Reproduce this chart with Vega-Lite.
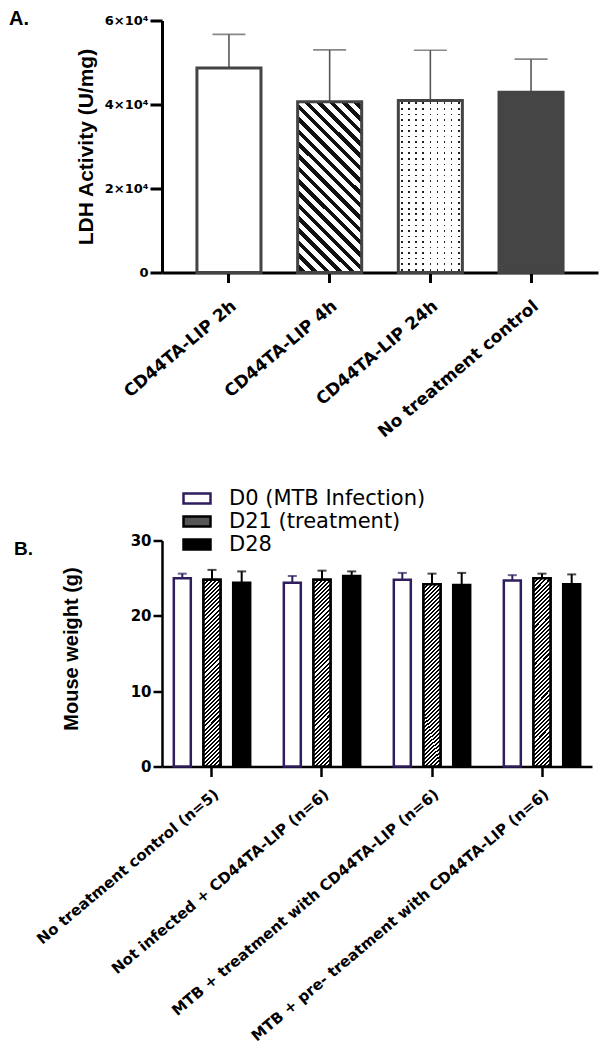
{
  "$schema": "https://vega.github.io/schema/vega-lite/v6.json",
  "background": "white",
  "padding": {"left": 9, "top": 8.5, "right": 5, "bottom": 2},
  "spacing": 93,
  "config": {
    "view": {"stroke": null},
    "font": "DejaVu Sans",
    "axis": {"grid": false, "labelColor": "black", "domainColor": "black", "tickColor": "black", "labelFont": "DejaVu Sans", "labelFontWeight": "bold", "titleColor": "black", "labelLimit": 500}
  },
  "vconcat": [
    {
      "width": 436,
      "height": 252,
      "title": {"text": "A.", "anchor": "start", "frame": "group", "dx": -153, "dy": 30.5, "fontSize": 20, "font": "Liberation Sans", "fontWeight": "bold", "color": "black", "offset": 0, "baseline": "alphabetic"},
      "data": {"values": [
        {"group": "CD44TA-LIP 2h", "value": 48700, "upper": 56700},
        {"group": "CD44TA-LIP 4h", "value": 40650, "upper": 53000},
        {"group": "CD44TA-LIP 24h", "value": 40950, "upper": 52900},
        {"group": "No treatment control", "value": 42900, "upper": 50800}
      ]},
      "encoding": {
        "x": {"field": "group", "type": "nominal", "sort": null, "scale": {"paddingInner": 0.364, "paddingOuter": 0.347},
          "axis": {"title": null, "labelAngle": -40, "labelFontSize": 17, "domainWidth": 3, "tickWidth": 3, "tickSize": 10, "labelPadding": 15}},
        "y": {"field": "value", "type": "quantitative", "scale": {"domain": [0, 60000], "nice": false},
          "axis": {"title": "LDH  Activity (U/mg)", "values": [0, 20000, 40000, 60000], "labelExpr": "datum.value === 0 ? '0' : format(datum.value / 10000, 'd') + '×10⁴'", "labelFontSize": 13, "domainWidth": 3, "tickWidth": 3, "tickSize": 12, "labelPadding": 2, "titleFont": "Liberation Sans", "titleFontSize": 21, "titleFontWeight": "bold", "titleX": -70, "titleY": 126, "titleBaseline": "alphabetic", "titleAngle": -90, "titleAlign": "center"}}
      },
      "layer": [
        {"mark": {"type": "rule", "color": "#555", "strokeWidth": 1.6}, "encoding": {"y2": {"field": "upper"}}},
        {"mark": {"type": "tick", "color": "#555", "thickness": 1.6, "size": 33}, "encoding": {"y": {"field": "upper", "type": "quantitative", "title": "LDH  Activity (U/mg)"}}},
        {"transform": [{"filter": "datum.group === 'CD44TA-LIP 2h'"}], "mark": {"type": "bar", "fill": "white", "stroke": "#444", "strokeWidth": 3}},
        {"transform": [{"filter": "datum.group === 'CD44TA-LIP 4h'"}], "mark": {"type": "bar", "stroke": "#444", "strokeWidth": 3,
          "fill": {"gradient": "linear", "x1": 0, "y1": 1, "x2": 0.451, "y2": -0.205, "stops": [
            {"offset": 0, "color": "#fff"},
            {"offset": 0.0145, "color": "#fff"}, {"offset": 0.0145, "color": "#111"}, {"offset": 0.0382, "color": "#111"}, {"offset": 0.0382, "color": "#fff"},
            {"offset": 0.0671, "color": "#fff"}, {"offset": 0.0671, "color": "#111"}, {"offset": 0.0908, "color": "#111"}, {"offset": 0.0908, "color": "#fff"},
            {"offset": 0.1197, "color": "#fff"}, {"offset": 0.1197, "color": "#111"}, {"offset": 0.1434, "color": "#111"}, {"offset": 0.1434, "color": "#fff"},
            {"offset": 0.1724, "color": "#fff"}, {"offset": 0.1724, "color": "#111"}, {"offset": 0.1961, "color": "#111"}, {"offset": 0.1961, "color": "#fff"},
            {"offset": 0.2250, "color": "#fff"}, {"offset": 0.2250, "color": "#111"}, {"offset": 0.2487, "color": "#111"}, {"offset": 0.2487, "color": "#fff"},
            {"offset": 0.2776, "color": "#fff"}, {"offset": 0.2776, "color": "#111"}, {"offset": 0.3013, "color": "#111"}, {"offset": 0.3013, "color": "#fff"},
            {"offset": 0.3303, "color": "#fff"}, {"offset": 0.3303, "color": "#111"}, {"offset": 0.3540, "color": "#111"}, {"offset": 0.3540, "color": "#fff"},
            {"offset": 0.3829, "color": "#fff"}, {"offset": 0.3829, "color": "#111"}, {"offset": 0.4066, "color": "#111"}, {"offset": 0.4066, "color": "#fff"},
            {"offset": 0.4355, "color": "#fff"}, {"offset": 0.4355, "color": "#111"}, {"offset": 0.4592, "color": "#111"}, {"offset": 0.4592, "color": "#fff"},
            {"offset": 0.4882, "color": "#fff"}, {"offset": 0.4882, "color": "#111"}, {"offset": 0.5119, "color": "#111"}, {"offset": 0.5119, "color": "#fff"},
            {"offset": 0.5408, "color": "#fff"}, {"offset": 0.5408, "color": "#111"}, {"offset": 0.5645, "color": "#111"}, {"offset": 0.5645, "color": "#fff"},
            {"offset": 0.5934, "color": "#fff"}, {"offset": 0.5934, "color": "#111"}, {"offset": 0.6171, "color": "#111"}, {"offset": 0.6171, "color": "#fff"},
            {"offset": 0.6461, "color": "#fff"}, {"offset": 0.6461, "color": "#111"}, {"offset": 0.6698, "color": "#111"}, {"offset": 0.6698, "color": "#fff"},
            {"offset": 0.6987, "color": "#fff"}, {"offset": 0.6987, "color": "#111"}, {"offset": 0.7224, "color": "#111"}, {"offset": 0.7224, "color": "#fff"},
            {"offset": 0.7513, "color": "#fff"}, {"offset": 0.7513, "color": "#111"}, {"offset": 0.7750, "color": "#111"}, {"offset": 0.7750, "color": "#fff"},
            {"offset": 0.8040, "color": "#fff"}, {"offset": 0.8040, "color": "#111"}, {"offset": 0.8277, "color": "#111"}, {"offset": 0.8277, "color": "#fff"},
            {"offset": 0.8566, "color": "#fff"}, {"offset": 0.8566, "color": "#111"}, {"offset": 0.8803, "color": "#111"}, {"offset": 0.8803, "color": "#fff"},
            {"offset": 0.9092, "color": "#fff"}, {"offset": 0.9092, "color": "#111"}, {"offset": 0.9329, "color": "#111"}, {"offset": 0.9329, "color": "#fff"},
            {"offset": 0.9618, "color": "#fff"}, {"offset": 0.9618, "color": "#111"}, {"offset": 0.9855, "color": "#111"}, {"offset": 0.9855, "color": "#fff"},
            {"offset": 1, "color": "#fff"}
          ]}}},
        {"transform": [{"filter": "datum.group === 'CD44TA-LIP 24h'"}], "mark": {"type": "bar", "strokeWidth": 0,
          "fill": {"gradient": "linear", "x1": 0, "y1": 0, "x2": 1, "y2": 0, "stops": [
            {"offset": 0, "color": "#fff"},
            {"offset": 0.0431, "color": "#fff"}, {"offset": 0.0431, "color": "#222"}, {"offset": 0.0681, "color": "#222"}, {"offset": 0.0681, "color": "#fff"},
            {"offset": 0.1542, "color": "#fff"}, {"offset": 0.1542, "color": "#222"}, {"offset": 0.1792, "color": "#222"}, {"offset": 0.1792, "color": "#fff"},
            {"offset": 0.2653, "color": "#fff"}, {"offset": 0.2653, "color": "#222"}, {"offset": 0.2903, "color": "#222"}, {"offset": 0.2903, "color": "#fff"},
            {"offset": 0.3764, "color": "#fff"}, {"offset": 0.3764, "color": "#222"}, {"offset": 0.4014, "color": "#222"}, {"offset": 0.4014, "color": "#fff"},
            {"offset": 0.4875, "color": "#fff"}, {"offset": 0.4875, "color": "#222"}, {"offset": 0.5125, "color": "#222"}, {"offset": 0.5125, "color": "#fff"},
            {"offset": 0.5986, "color": "#fff"}, {"offset": 0.5986, "color": "#222"}, {"offset": 0.6236, "color": "#222"}, {"offset": 0.6236, "color": "#fff"},
            {"offset": 0.7097, "color": "#fff"}, {"offset": 0.7097, "color": "#222"}, {"offset": 0.7347, "color": "#222"}, {"offset": 0.7347, "color": "#fff"},
            {"offset": 0.8208, "color": "#fff"}, {"offset": 0.8208, "color": "#222"}, {"offset": 0.8458, "color": "#222"}, {"offset": 0.8458, "color": "#fff"},
            {"offset": 0.9319, "color": "#fff"}, {"offset": 0.9319, "color": "#222"}, {"offset": 0.9569, "color": "#222"}, {"offset": 0.9569, "color": "#fff"},
            {"offset": 1, "color": "#fff"}
          ]}}},
        {"transform": [{"filter": "datum.group === 'CD44TA-LIP 24h'"}], "mark": {"type": "bar", "stroke": "#444", "strokeWidth": 3,
          "fill": {"gradient": "linear", "x1": 0, "y1": 0, "x2": 0, "y2": 1, "stops": [
            {"offset": 0, "color": "#fff"},
            {"offset": 0.0114, "color": "#fff"}, {"offset": 0.0114, "color": "rgba(255,255,255,0)"}, {"offset": 0.0208, "color": "rgba(255,255,255,0)"}, {"offset": 0.0208, "color": "#fff"},
            {"offset": 0.0437, "color": "#fff"}, {"offset": 0.0437, "color": "rgba(255,255,255,0)"}, {"offset": 0.0531, "color": "rgba(255,255,255,0)"}, {"offset": 0.0531, "color": "#fff"},
            {"offset": 0.0759, "color": "#fff"}, {"offset": 0.0759, "color": "rgba(255,255,255,0)"}, {"offset": 0.0853, "color": "rgba(255,255,255,0)"}, {"offset": 0.0853, "color": "#fff"},
            {"offset": 0.1082, "color": "#fff"}, {"offset": 0.1082, "color": "rgba(255,255,255,0)"}, {"offset": 0.1176, "color": "rgba(255,255,255,0)"}, {"offset": 0.1176, "color": "#fff"},
            {"offset": 0.1405, "color": "#fff"}, {"offset": 0.1405, "color": "rgba(255,255,255,0)"}, {"offset": 0.1499, "color": "rgba(255,255,255,0)"}, {"offset": 0.1499, "color": "#fff"},
            {"offset": 0.1727, "color": "#fff"}, {"offset": 0.1727, "color": "rgba(255,255,255,0)"}, {"offset": 0.1821, "color": "rgba(255,255,255,0)"}, {"offset": 0.1821, "color": "#fff"},
            {"offset": 0.2050, "color": "#fff"}, {"offset": 0.2050, "color": "rgba(255,255,255,0)"}, {"offset": 0.2144, "color": "rgba(255,255,255,0)"}, {"offset": 0.2144, "color": "#fff"},
            {"offset": 0.2372, "color": "#fff"}, {"offset": 0.2372, "color": "rgba(255,255,255,0)"}, {"offset": 0.2466, "color": "rgba(255,255,255,0)"}, {"offset": 0.2466, "color": "#fff"},
            {"offset": 0.2695, "color": "#fff"}, {"offset": 0.2695, "color": "rgba(255,255,255,0)"}, {"offset": 0.2789, "color": "rgba(255,255,255,0)"}, {"offset": 0.2789, "color": "#fff"},
            {"offset": 0.3018, "color": "#fff"}, {"offset": 0.3018, "color": "rgba(255,255,255,0)"}, {"offset": 0.3112, "color": "rgba(255,255,255,0)"}, {"offset": 0.3112, "color": "#fff"},
            {"offset": 0.3340, "color": "#fff"}, {"offset": 0.3340, "color": "rgba(255,255,255,0)"}, {"offset": 0.3434, "color": "rgba(255,255,255,0)"}, {"offset": 0.3434, "color": "#fff"},
            {"offset": 0.3663, "color": "#fff"}, {"offset": 0.3663, "color": "rgba(255,255,255,0)"}, {"offset": 0.3757, "color": "rgba(255,255,255,0)"}, {"offset": 0.3757, "color": "#fff"},
            {"offset": 0.3985, "color": "#fff"}, {"offset": 0.3985, "color": "rgba(255,255,255,0)"}, {"offset": 0.4079, "color": "rgba(255,255,255,0)"}, {"offset": 0.4079, "color": "#fff"},
            {"offset": 0.4308, "color": "#fff"}, {"offset": 0.4308, "color": "rgba(255,255,255,0)"}, {"offset": 0.4402, "color": "rgba(255,255,255,0)"}, {"offset": 0.4402, "color": "#fff"},
            {"offset": 0.4630, "color": "#fff"}, {"offset": 0.4630, "color": "rgba(255,255,255,0)"}, {"offset": 0.4724, "color": "rgba(255,255,255,0)"}, {"offset": 0.4724, "color": "#fff"},
            {"offset": 0.4953, "color": "#fff"}, {"offset": 0.4953, "color": "rgba(255,255,255,0)"}, {"offset": 0.5047, "color": "rgba(255,255,255,0)"}, {"offset": 0.5047, "color": "#fff"},
            {"offset": 0.5276, "color": "#fff"}, {"offset": 0.5276, "color": "rgba(255,255,255,0)"}, {"offset": 0.5370, "color": "rgba(255,255,255,0)"}, {"offset": 0.5370, "color": "#fff"},
            {"offset": 0.5598, "color": "#fff"}, {"offset": 0.5598, "color": "rgba(255,255,255,0)"}, {"offset": 0.5692, "color": "rgba(255,255,255,0)"}, {"offset": 0.5692, "color": "#fff"},
            {"offset": 0.5921, "color": "#fff"}, {"offset": 0.5921, "color": "rgba(255,255,255,0)"}, {"offset": 0.6015, "color": "rgba(255,255,255,0)"}, {"offset": 0.6015, "color": "#fff"},
            {"offset": 0.6243, "color": "#fff"}, {"offset": 0.6243, "color": "rgba(255,255,255,0)"}, {"offset": 0.6337, "color": "rgba(255,255,255,0)"}, {"offset": 0.6337, "color": "#fff"},
            {"offset": 0.6566, "color": "#fff"}, {"offset": 0.6566, "color": "rgba(255,255,255,0)"}, {"offset": 0.6660, "color": "rgba(255,255,255,0)"}, {"offset": 0.6660, "color": "#fff"},
            {"offset": 0.6888, "color": "#fff"}, {"offset": 0.6888, "color": "rgba(255,255,255,0)"}, {"offset": 0.6982, "color": "rgba(255,255,255,0)"}, {"offset": 0.6982, "color": "#fff"},
            {"offset": 0.7211, "color": "#fff"}, {"offset": 0.7211, "color": "rgba(255,255,255,0)"}, {"offset": 0.7305, "color": "rgba(255,255,255,0)"}, {"offset": 0.7305, "color": "#fff"},
            {"offset": 0.7534, "color": "#fff"}, {"offset": 0.7534, "color": "rgba(255,255,255,0)"}, {"offset": 0.7628, "color": "rgba(255,255,255,0)"}, {"offset": 0.7628, "color": "#fff"},
            {"offset": 0.7856, "color": "#fff"}, {"offset": 0.7856, "color": "rgba(255,255,255,0)"}, {"offset": 0.7950, "color": "rgba(255,255,255,0)"}, {"offset": 0.7950, "color": "#fff"},
            {"offset": 0.8179, "color": "#fff"}, {"offset": 0.8179, "color": "rgba(255,255,255,0)"}, {"offset": 0.8273, "color": "rgba(255,255,255,0)"}, {"offset": 0.8273, "color": "#fff"},
            {"offset": 0.8501, "color": "#fff"}, {"offset": 0.8501, "color": "rgba(255,255,255,0)"}, {"offset": 0.8595, "color": "rgba(255,255,255,0)"}, {"offset": 0.8595, "color": "#fff"},
            {"offset": 0.8824, "color": "#fff"}, {"offset": 0.8824, "color": "rgba(255,255,255,0)"}, {"offset": 0.8918, "color": "rgba(255,255,255,0)"}, {"offset": 0.8918, "color": "#fff"},
            {"offset": 0.9147, "color": "#fff"}, {"offset": 0.9147, "color": "rgba(255,255,255,0)"}, {"offset": 0.9241, "color": "rgba(255,255,255,0)"}, {"offset": 0.9241, "color": "#fff"},
            {"offset": 0.9469, "color": "#fff"}, {"offset": 0.9469, "color": "rgba(255,255,255,0)"}, {"offset": 0.9563, "color": "rgba(255,255,255,0)"}, {"offset": 0.9563, "color": "#fff"},
            {"offset": 0.9792, "color": "#fff"}, {"offset": 0.9792, "color": "rgba(255,255,255,0)"}, {"offset": 0.9886, "color": "rgba(255,255,255,0)"}, {"offset": 0.9886, "color": "#fff"},
            {"offset": 1, "color": "#fff"}
          ]}}},
        {"transform": [{"filter": "datum.group === 'No treatment control'"}], "mark": {"type": "bar", "fill": "#454545", "stroke": "#444", "strokeWidth": 3}}
      ]
    },
    {
      "width": 430,
      "height": 226,
      "title": {"text": "B.", "anchor": "start", "frame": "group", "dx": -148, "dy": 40, "fontSize": 19, "font": "Liberation Sans", "fontWeight": "bold", "color": "black", "offset": 0, "baseline": "alphabetic"},
      "data": {"values": [
        {"group": "No treatment control (n=5)", "day": "D0 (MTB Infection)", "value": 25.0, "upper": 25.6},
        {"group": "No treatment control (n=5)", "day": "D21 (treatment)", "value": 24.8, "upper": 26.1},
        {"group": "No treatment control (n=5)", "day": "D28", "value": 24.4, "upper": 25.9},
        {"group": "Not infected + CD44TA-LIP (n=6)", "day": "D0 (MTB Infection)", "value": 24.4, "upper": 25.3},
        {"group": "Not infected + CD44TA-LIP (n=6)", "day": "D21 (treatment)", "value": 24.8, "upper": 26.0},
        {"group": "Not infected + CD44TA-LIP (n=6)", "day": "D28", "value": 25.3, "upper": 25.9},
        {"group": "MTB + treatment with CD44TA-LIP (n=6)", "day": "D0 (MTB Infection)", "value": 24.8, "upper": 25.7},
        {"group": "MTB + treatment with CD44TA-LIP (n=6)", "day": "D21 (treatment)", "value": 24.2, "upper": 25.6},
        {"group": "MTB + treatment with CD44TA-LIP (n=6)", "day": "D28", "value": 24.1, "upper": 25.7},
        {"group": "MTB + pre- treatment with CD44TA-LIP (n=6)", "day": "D0 (MTB Infection)", "value": 24.7, "upper": 25.4},
        {"group": "MTB + pre- treatment with CD44TA-LIP (n=6)", "day": "D21 (treatment)", "value": 25.0, "upper": 25.6},
        {"group": "MTB + pre- treatment with CD44TA-LIP (n=6)", "day": "D28", "value": 24.2, "upper": 25.5}
      ]},
      "encoding": {
        "x": {"field": "group", "type": "nominal", "sort": null, "scale": {"paddingInner": 0.2, "paddingOuter": 0.0545},
          "axis": {"title": null, "labelAngle": -40, "labelFontSize": 15, "domainWidth": 2.5, "tickWidth": 2.5, "tickSize": 10, "labelPadding": 10}},
        "xOffset": {"field": "day", "type": "nominal", "sort": null, "scale": {"paddingInner": 0.428, "paddingOuter": 0.196}},
        "y": {"field": "value", "type": "quantitative", "scale": {"domain": [0, 30], "nice": false},
          "axis": {"title": "Mouse weight (g)", "values": [0, 10, 20, 30], "labelFontSize": 15, "domainWidth": 2.5, "tickWidth": 2.5, "tickSize": 9, "labelPadding": 2, "titleFont": "Liberation Sans", "titleFontSize": 20, "titleFontWeight": "bold", "titleX": -85, "titleY": 108, "titleBaseline": "alphabetic", "titleAngle": -90, "titleAlign": "center"}}
      },
      "layer": [
        {"mark": {"type": "rule", "strokeWidth": 2}, "encoding": {"y2": {"field": "upper"}, "color": {"condition": {"test": "datum.day === 'D0 (MTB Infection)'", "value": "#2f1d5e"}, "value": "black"}}},
        {"mark": {"type": "tick", "thickness": 2, "size": 9}, "encoding": {"y": {"field": "upper", "type": "quantitative", "title": "Mouse weight (g)"}, "color": {"condition": {"test": "datum.day === 'D0 (MTB Infection)'", "value": "#2f1d5e"}, "value": "black"}}},
        {"mark": {"type": "bar", "strokeWidth": 2.5},
          "encoding": {
            "fill": {"field": "day", "type": "nominal", "sort": null, "scale": {"domain": ["D0 (MTB Infection)", "D21 (treatment)", "D28"], "range": ["white", "#555", "black"]},
              "legend": {"title": null, "orient": "none", "legendX": 20, "legendY": 466.5, "padding": 0, "offset": 0, "rowPadding": 0, "clipHeight": 23,
                "symbolType": "M-1,-0.37H1V0.37H-1Z", "symbolSize": 729, "symbolStrokeWidth": 2.5,
                "labelFont": "DejaVu Sans", "labelFontSize": 21, "labelColor": "black", "labelOffset": 17, "labelLimit": 500}},
            "stroke": {"field": "day", "type": "nominal", "sort": null, "scale": {"domain": ["D0 (MTB Infection)", "D21 (treatment)", "D28"], "range": ["#2f1d5e", "black", "black"]}, "legend": null}
          }},
        {"transform": [{"filter": "datum.day === 'D21 (treatment)'"}], "mark": {"type": "bar", "stroke": "black", "strokeWidth": 2.5,
          "fill": {"gradient": "linear", "x1": 0, "y1": 0, "x2": 0.0984, "y2": 1.082, "stops": [
            {"offset": 0, "color": "#000"}, {"offset": 0.01, "color": "#000"}, {"offset": 0.01, "color": "#fff"}, {"offset": 0.02, "color": "#fff"},
            {"offset": 0.02, "color": "#000"}, {"offset": 0.03, "color": "#000"}, {"offset": 0.03, "color": "#fff"}, {"offset": 0.04, "color": "#fff"},
            {"offset": 0.04, "color": "#000"}, {"offset": 0.05, "color": "#000"}, {"offset": 0.05, "color": "#fff"}, {"offset": 0.06, "color": "#fff"},
            {"offset": 0.06, "color": "#000"}, {"offset": 0.07, "color": "#000"}, {"offset": 0.07, "color": "#fff"}, {"offset": 0.08, "color": "#fff"},
            {"offset": 0.08, "color": "#000"}, {"offset": 0.09, "color": "#000"}, {"offset": 0.09, "color": "#fff"}, {"offset": 0.10, "color": "#fff"},
            {"offset": 0.10, "color": "#000"}, {"offset": 0.11, "color": "#000"}, {"offset": 0.11, "color": "#fff"}, {"offset": 0.12, "color": "#fff"},
            {"offset": 0.12, "color": "#000"}, {"offset": 0.13, "color": "#000"}, {"offset": 0.13, "color": "#fff"}, {"offset": 0.14, "color": "#fff"},
            {"offset": 0.14, "color": "#000"}, {"offset": 0.15, "color": "#000"}, {"offset": 0.15, "color": "#fff"}, {"offset": 0.16, "color": "#fff"},
            {"offset": 0.16, "color": "#000"}, {"offset": 0.17, "color": "#000"}, {"offset": 0.17, "color": "#fff"}, {"offset": 0.18, "color": "#fff"},
            {"offset": 0.18, "color": "#000"}, {"offset": 0.19, "color": "#000"}, {"offset": 0.19, "color": "#fff"}, {"offset": 0.20, "color": "#fff"},
            {"offset": 0.20, "color": "#000"}, {"offset": 0.21, "color": "#000"}, {"offset": 0.21, "color": "#fff"}, {"offset": 0.22, "color": "#fff"},
            {"offset": 0.22, "color": "#000"}, {"offset": 0.23, "color": "#000"}, {"offset": 0.23, "color": "#fff"}, {"offset": 0.24, "color": "#fff"},
            {"offset": 0.24, "color": "#000"}, {"offset": 0.25, "color": "#000"}, {"offset": 0.25, "color": "#fff"}, {"offset": 0.26, "color": "#fff"},
            {"offset": 0.26, "color": "#000"}, {"offset": 0.27, "color": "#000"}, {"offset": 0.27, "color": "#fff"}, {"offset": 0.28, "color": "#fff"},
            {"offset": 0.28, "color": "#000"}, {"offset": 0.29, "color": "#000"}, {"offset": 0.29, "color": "#fff"}, {"offset": 0.30, "color": "#fff"},
            {"offset": 0.30, "color": "#000"}, {"offset": 0.31, "color": "#000"}, {"offset": 0.31, "color": "#fff"}, {"offset": 0.32, "color": "#fff"},
            {"offset": 0.32, "color": "#000"}, {"offset": 0.33, "color": "#000"}, {"offset": 0.33, "color": "#fff"}, {"offset": 0.34, "color": "#fff"},
            {"offset": 0.34, "color": "#000"}, {"offset": 0.35, "color": "#000"}, {"offset": 0.35, "color": "#fff"}, {"offset": 0.36, "color": "#fff"},
            {"offset": 0.36, "color": "#000"}, {"offset": 0.37, "color": "#000"}, {"offset": 0.37, "color": "#fff"}, {"offset": 0.38, "color": "#fff"},
            {"offset": 0.38, "color": "#000"}, {"offset": 0.39, "color": "#000"}, {"offset": 0.39, "color": "#fff"}, {"offset": 0.40, "color": "#fff"},
            {"offset": 0.40, "color": "#000"}, {"offset": 0.41, "color": "#000"}, {"offset": 0.41, "color": "#fff"}, {"offset": 0.42, "color": "#fff"},
            {"offset": 0.42, "color": "#000"}, {"offset": 0.43, "color": "#000"}, {"offset": 0.43, "color": "#fff"}, {"offset": 0.44, "color": "#fff"},
            {"offset": 0.44, "color": "#000"}, {"offset": 0.45, "color": "#000"}, {"offset": 0.45, "color": "#fff"}, {"offset": 0.46, "color": "#fff"},
            {"offset": 0.46, "color": "#000"}, {"offset": 0.47, "color": "#000"}, {"offset": 0.47, "color": "#fff"}, {"offset": 0.48, "color": "#fff"},
            {"offset": 0.48, "color": "#000"}, {"offset": 0.49, "color": "#000"}, {"offset": 0.49, "color": "#fff"}, {"offset": 0.50, "color": "#fff"},
            {"offset": 0.50, "color": "#000"}, {"offset": 0.51, "color": "#000"}, {"offset": 0.51, "color": "#fff"}, {"offset": 0.52, "color": "#fff"},
            {"offset": 0.52, "color": "#000"}, {"offset": 0.53, "color": "#000"}, {"offset": 0.53, "color": "#fff"}, {"offset": 0.54, "color": "#fff"},
            {"offset": 0.54, "color": "#000"}, {"offset": 0.55, "color": "#000"}, {"offset": 0.55, "color": "#fff"}, {"offset": 0.56, "color": "#fff"},
            {"offset": 0.56, "color": "#000"}, {"offset": 0.57, "color": "#000"}, {"offset": 0.57, "color": "#fff"}, {"offset": 0.58, "color": "#fff"},
            {"offset": 0.58, "color": "#000"}, {"offset": 0.59, "color": "#000"}, {"offset": 0.59, "color": "#fff"}, {"offset": 0.60, "color": "#fff"},
            {"offset": 0.60, "color": "#000"}, {"offset": 0.61, "color": "#000"}, {"offset": 0.61, "color": "#fff"}, {"offset": 0.62, "color": "#fff"},
            {"offset": 0.62, "color": "#000"}, {"offset": 0.63, "color": "#000"}, {"offset": 0.63, "color": "#fff"}, {"offset": 0.64, "color": "#fff"},
            {"offset": 0.64, "color": "#000"}, {"offset": 0.65, "color": "#000"}, {"offset": 0.65, "color": "#fff"}, {"offset": 0.66, "color": "#fff"},
            {"offset": 0.66, "color": "#000"}, {"offset": 0.67, "color": "#000"}, {"offset": 0.67, "color": "#fff"}, {"offset": 0.68, "color": "#fff"},
            {"offset": 0.68, "color": "#000"}, {"offset": 0.69, "color": "#000"}, {"offset": 0.69, "color": "#fff"}, {"offset": 0.70, "color": "#fff"},
            {"offset": 0.70, "color": "#000"}, {"offset": 0.71, "color": "#000"}, {"offset": 0.71, "color": "#fff"}, {"offset": 0.72, "color": "#fff"},
            {"offset": 0.72, "color": "#000"}, {"offset": 0.73, "color": "#000"}, {"offset": 0.73, "color": "#fff"}, {"offset": 0.74, "color": "#fff"},
            {"offset": 0.74, "color": "#000"}, {"offset": 0.75, "color": "#000"}, {"offset": 0.75, "color": "#fff"}, {"offset": 0.76, "color": "#fff"},
            {"offset": 0.76, "color": "#000"}, {"offset": 0.77, "color": "#000"}, {"offset": 0.77, "color": "#fff"}, {"offset": 0.78, "color": "#fff"},
            {"offset": 0.78, "color": "#000"}, {"offset": 0.79, "color": "#000"}, {"offset": 0.79, "color": "#fff"}, {"offset": 0.80, "color": "#fff"},
            {"offset": 0.80, "color": "#000"}, {"offset": 0.81, "color": "#000"}, {"offset": 0.81, "color": "#fff"}, {"offset": 0.82, "color": "#fff"},
            {"offset": 0.82, "color": "#000"}, {"offset": 0.83, "color": "#000"}, {"offset": 0.83, "color": "#fff"}, {"offset": 0.84, "color": "#fff"},
            {"offset": 0.84, "color": "#000"}, {"offset": 0.85, "color": "#000"}, {"offset": 0.85, "color": "#fff"}, {"offset": 0.86, "color": "#fff"},
            {"offset": 0.86, "color": "#000"}, {"offset": 0.87, "color": "#000"}, {"offset": 0.87, "color": "#fff"}, {"offset": 0.88, "color": "#fff"},
            {"offset": 0.88, "color": "#000"}, {"offset": 0.89, "color": "#000"}, {"offset": 0.89, "color": "#fff"}, {"offset": 0.90, "color": "#fff"},
            {"offset": 0.90, "color": "#000"}, {"offset": 0.91, "color": "#000"}, {"offset": 0.91, "color": "#fff"}, {"offset": 0.92, "color": "#fff"},
            {"offset": 0.92, "color": "#000"}, {"offset": 0.93, "color": "#000"}, {"offset": 0.93, "color": "#fff"}, {"offset": 0.94, "color": "#fff"},
            {"offset": 0.94, "color": "#000"}, {"offset": 0.95, "color": "#000"}, {"offset": 0.95, "color": "#fff"}, {"offset": 0.96, "color": "#fff"},
            {"offset": 0.96, "color": "#000"}, {"offset": 0.97, "color": "#000"}, {"offset": 0.97, "color": "#fff"}, {"offset": 0.98, "color": "#fff"},
            {"offset": 0.98, "color": "#000"}, {"offset": 0.99, "color": "#000"}, {"offset": 0.99, "color": "#fff"}, {"offset": 1, "color": "#fff"}
          ]}}}
      ]
    }
  ]
}
